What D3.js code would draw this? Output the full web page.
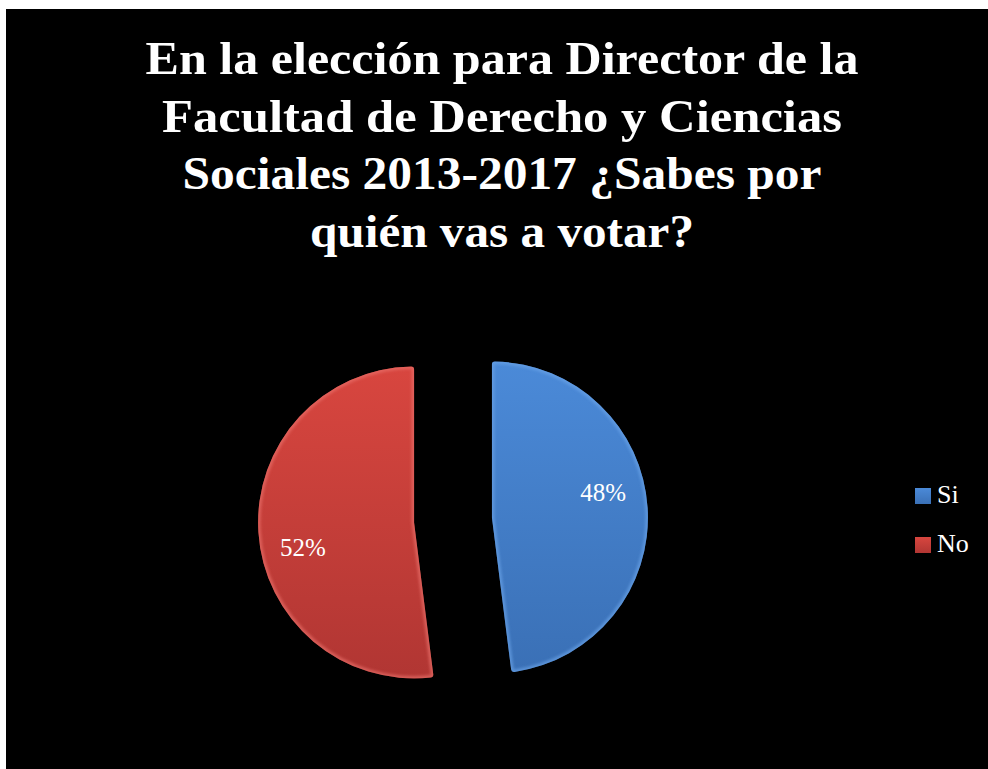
<!DOCTYPE html>
<html>
<head>
<meta charset="utf-8">
<script src="https://cdn.jsdelivr.net/npm/d3@7/dist/d3.min.js"></script>
<style>
  html, body { margin: 0; padding: 0; background: #ffffff; }
  svg { display: block; }
</style>
</head>
<body>
<svg id="chart" width="988" height="769"></svg>
<script>
// Survey answers and their shares (percent)
const categories = ["Si", "No"];
const values = [48, 52];
const titleLines = [
  "En la elección para Director de la",
  "Facultad de Derecho y Ciencias",
  "Sociales 2013-2017 ¿Sabes por",
  "quién vas a votar?"
];

const sliceColors = {
  Si: { top: "#4b8ad8", bottom: "#3a70b6", rim: "#6aa3e6" },
  No: { top: "#d8463f", bottom: "#b13633", rim: "#e8706a" }
};

const W = 988, H = 769;
const svg = d3.select("#chart");
const serif = "'Liberation Serif', 'DejaVu Serif', serif";

// Panel
svg.append("rect").attr("x", 6).attr("y", 9).attr("width", W - 6).attr("height", H - 9).attr("fill", "#000");

const defs = svg.append("defs");
categories.forEach(c => {
  const g = defs.append("linearGradient").attr("id", "grad-" + c)
    .attr("x1", 0).attr("y1", 0).attr("x2", 0).attr("y2", 1);
  g.append("stop").attr("offset", "0%").attr("stop-color", sliceColors[c].top);
  g.append("stop").attr("offset", "100%").attr("stop-color", sliceColors[c].bottom);
});
defs.append("filter").attr("id", "soft").append("feGaussianBlur").attr("stdDeviation", 1.6);

// Title, one centred line per entry
const titleWidths = [713, 680, 639, 384];
const title = svg.append("g");
titleLines.forEach((t, i) => {
  title.append("text")
    .attr("x", 502)
    .attr("y", 74 + i * 57.7)
    .attr("text-anchor", "middle")
    .attr("font-family", serif)
    .attr("font-weight", "bold")
    .attr("font-size", 46)
    .attr("fill", "#ffffff")
    .attr("textLength", titleWidths[i])
    .attr("lengthAdjust", "spacingAndGlyphs")
    .text(t);
});

// Exploded pie, first slice starting at 12 o'clock
const cx = 453, cy = 520, R = 156, explode = 39;
const pie = d3.pie().sort(null).value(d => d).startAngle(0).endAngle(2 * Math.PI);
const arcs = pie(values);
const arc = d3.arc().innerRadius(0).outerRadius(R).cornerRadius(3);

const pieG = svg.append("g").attr("transform", `translate(${cx},${cy})`);
arcs.forEach((a, i) => {
  const c = categories[i];
  const mid = (a.startAngle + a.endAngle) / 2;
  const dx = explode * Math.sin(mid), dy = -explode * Math.cos(mid);
  const g = pieG.append("g").attr("transform", `translate(${dx},${dy})`);
  const clipId = "clip-" + c;
  defs.append("clipPath").attr("id", clipId).append("path").attr("d", arc(a));
  g.append("path").attr("d", arc(a)).attr("fill", `url(#grad-${c})`);
  // bevelled rim
  g.append("path").attr("d", arc(a))
    .attr("fill", "none")
    .attr("stroke", sliceColors[c].rim)
    .attr("stroke-width", 5)
    .attr("opacity", 0.7)
    .attr("filter", "url(#soft)")
    .attr("clip-path", `url(#${clipId})`);

  // value label
  const la = mid - 9 * Math.PI / 180, lr = 114;
  g.append("text")
    .attr("x", lr * Math.sin(la))
    .attr("y", -lr * Math.cos(la))
    .attr("dy", "0.35em")
    .attr("text-anchor", "middle")
    .attr("font-family", serif)
    .attr("font-size", 25)
    .attr("fill", "#ffffff")
    .text(values[i] + "%");
});

// Legend
const legend = svg.append("g");
categories.forEach((c, i) => {
  const y = 488 + i * 49;
  legend.append("rect").attr("x", 915).attr("y", y).attr("width", 16).attr("height", 16)
    .attr("fill", `url(#grad-${c})`);
  legend.append("text")
    .attr("x", 937).attr("y", y + 15)
    .attr("font-family", serif)
    .attr("font-size", 26)
    .attr("fill", "#ffffff")
    .text(c);
});
</script>
</body>
</html>
